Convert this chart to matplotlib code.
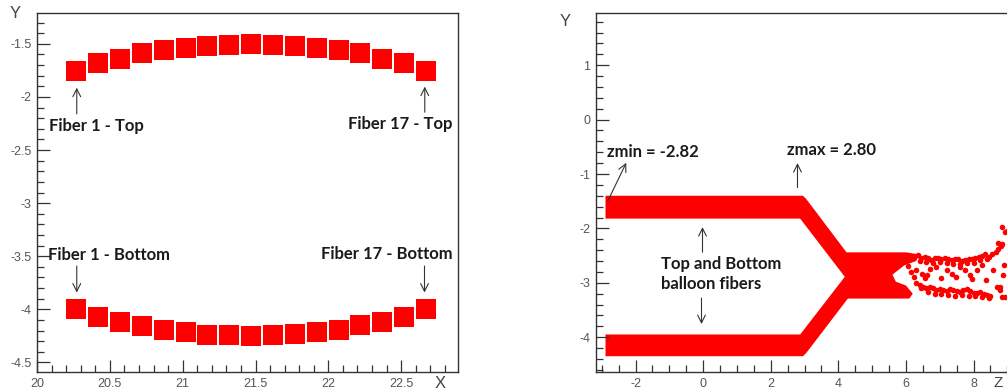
import numpy as np
import matplotlib.pyplot as plt
from matplotlib.ticker import MultipleLocator, FormatStrFormatter

# fiber centres (left pad)
fiber_x = [20.27, 20.42, 20.57, 20.72, 20.87, 21.02, 21.17, 21.32, 21.47,
           21.62, 21.77, 21.92, 22.07, 22.22, 22.37, 22.52, 22.67]
top_y = [-1.76, -1.68, -1.645, -1.59, -1.557, -1.54, -1.516, -1.51, -1.503,
         -1.51, -1.516, -1.54, -1.56, -1.59, -1.645, -1.68, -1.76]
bot_y = [-4.00, -4.07, -4.12, -4.16, -4.19, -4.21, -4.24, -4.245, -4.255,
         -4.245, -4.23, -4.21, -4.19, -4.15, -4.12, -4.07, -4.00]

# outline of the dense hit band (right pad)
band_z = [-2.89, 2.95, 3.05, 4.24, 6.0, 6.4, 6.3, 5.95, 5.6, 5.7, 6.0, 6.2, 6.1,
          4.28, 3.05, 2.95, -2.89, -2.89, 2.87, 4.19, 2.87, -2.89]
band_y = [-1.40, -1.40, -1.46, -2.44, -2.44, -2.48, -2.6, -2.68, -2.85, -2.98,
          -3.05, -3.2, -3.29, -3.29, -4.29, -4.35, -4.35, -3.95, -3.95, -2.89,
          -1.82, -1.82]

# scattered hits downstream
scat_z = [6.25, 6.35, 6.45, 6.55, 6.65, 6.75, 6.85, 6.95, 7.05, 7.15, 7.25, 7.35,
          7.45, 7.55, 7.65, 7.75, 7.85, 7.95, 8.05, 8.15, 8.25, 8.35, 8.45, 8.55,
          8.65, 8.72, 8.80, 8.85,
          6.40, 6.60, 6.80, 7.00, 7.20, 7.40, 7.60, 7.80, 8.00, 8.20, 8.40,
          6.31, 6.46, 6.71, 6.90, 7.20, 7.35, 7.59, 7.74, 7.89, 8.09, 8.38, 8.58,
          6.05, 6.15, 6.25, 6.55, 6.62, 7.05, 7.48, 7.95, 8.25,
          6.30, 6.40, 6.50, 6.60, 6.70, 6.80, 6.90, 7.00, 7.10, 7.20, 7.30, 7.40,
          7.50, 7.60, 7.70, 7.80, 7.90, 8.00, 8.10, 8.20, 8.30, 8.40, 8.50,
          6.45, 6.65, 6.85, 7.05, 7.25, 7.45, 7.65, 7.85, 8.05, 8.25, 8.45,
          8.68, 8.78, 8.83,
          8.84, 8.93, 8.72, 8.90, 8.78, 8.93, 8.98, 8.88]
scat_y = [-2.52, -2.49, -2.55, -2.53, -2.55, -2.58, -2.55, -2.54, -2.57, -2.55, -2.56, -2.58,
          -2.57, -2.57, -2.60, -2.58, -2.56, -2.57, -2.55, -2.53, -2.50, -2.47, -2.52, -2.47,
          -2.43, -2.37, -2.32, -2.28,
          -2.60, -2.61, -2.64, -2.62, -2.64, -2.65, -2.66, -2.63, -2.63, -2.58, -2.56,
          -2.77, -2.83, -2.74, -2.71, -2.77, -2.83, -2.71, -2.77, -2.86, -2.77, -2.95, -2.77,
          -2.70, -2.80, -2.90, -2.92, -2.86, -2.92, -2.90, -2.93, -2.68,
          -3.00, -3.04, -3.08, -3.10, -3.07, -3.10, -3.13, -3.11, -3.14, -3.16, -3.12, -3.14,
          -3.15, -3.17, -3.13, -3.12, -3.16, -3.18, -3.19, -3.17, -3.21, -3.23, -3.25,
          -3.10, -3.17, -3.20, -3.21, -3.23, -3.24, -3.22, -3.24, -3.25, -3.26, -3.28,
          -3.08, -3.14, -3.26,
          -1.98, -2.07, -2.27, -2.68, -3.08, -3.27, -2.04, -2.85]

RED = "#ff0000"
TICKC = "#555555"
ANN = dict(fontsize=12, fontweight="bold", family="Lato", color="#1a1a1a")
ARR = dict(arrowstyle="->", lw=0.8, color="#333333", mutation_scale=14)

plt.rcParams['font.family'] = ['Liberation Sans', 'DejaVu Sans']

fig = plt.figure(figsize=(10.07, 3.92), dpi=100)
W, H = 1007, 392
ax1 = fig.add_axes([37 / W, 20 / H, 421 / W, 359 / H])
ax2 = fig.add_axes([595.7 / W, 20 / H, 421 / W, 359 / H])

for ax in (ax1, ax2):
    for s in ax.spines.values():
        s.set_color("#333333")
        s.set_linewidth(1.0)
    ax.tick_params(which="both", direction="in", top=False, right=False,
                   colors="#333333", labelcolor=TICKC, labelsize=9, pad=4)
    ax.tick_params(which="major", length=9, width=0.9)
    ax.tick_params(which="minor", length=5, width=0.9)

# left pad
ax1.plot(fiber_x, top_y, "s", color=RED, markersize=14, markeredgewidth=0)
ax1.plot(fiber_x, bot_y, "s", color=RED, markersize=14, markeredgewidth=0)
ax1.set_xlim(20, 22.89)
ax1.set_ylim(-4.59, -1.21)
ax1.xaxis.set_major_locator(MultipleLocator(0.5))
ax1.xaxis.set_minor_locator(MultipleLocator(0.1))
ax1.yaxis.set_major_locator(MultipleLocator(0.5))
ax1.yaxis.set_minor_locator(MultipleLocator(0.1))
ax1.xaxis.set_major_formatter(FormatStrFormatter('%g'))
ax1.yaxis.set_major_formatter(FormatStrFormatter('%g'))

ax1.text(20.082, -2.27, "Fiber 1 - Top", ha="left", va="center", **ANN)
ax1.text(22.852, -2.258, "Fiber 17 - Top", ha="right", va="center", **ANN)
ax1.text(20.076, -3.484, "Fiber 1 - Bottom", ha="left", va="center", **ANN)
ax1.text(22.85, -3.475, "Fiber 17 - Bottom", ha="right", va="center", **ANN)
ax1.annotate("", xy=(20.273, -1.887), xytext=(20.273, -2.186), arrowprops=ARR)
ax1.annotate("", xy=(22.662, -1.877), xytext=(22.662, -2.17), arrowprops=ARR)
ax1.annotate("", xy=(20.273, -3.868), xytext=(20.273, -3.566), arrowprops=ARR)
ax1.annotate("", xy=(22.66, -3.868), xytext=(22.66, -3.566), arrowprops=ARR)

fig.text(15 / W, 1 - 14 / H, "Y", ha="center", va="center", fontsize=12, color="#444444")
fig.text(440 / W, 1 - 384 / H, "X", ha="center", va="center", fontsize=12, color="#444444")

# right pad
ax2.fill(band_z, band_y, color=RED, lw=0)
ax2.scatter(scat_z, scat_y, s=16, color=RED, lw=0)
ax2.set_xlim(-3.18, -3.18 + 421 / 33.8)
ax2.set_ylim(-4.64, 1.96)
ax2.xaxis.set_major_locator(MultipleLocator(2))
ax2.xaxis.set_minor_locator(MultipleLocator(0.5))
ax2.yaxis.set_major_locator(MultipleLocator(1))
ax2.yaxis.set_minor_locator(MultipleLocator(0.2))
ax2.xaxis.set_major_formatter(FormatStrFormatter('%g'))
ax2.yaxis.set_major_formatter(FormatStrFormatter('%g'))

ax2.text(-2.84, -0.596, "zmin = -2.82", ha="left", va="center", **ANN)
ax2.text(2.47, -0.564, "zmax = 2.80", ha="left", va="center", **ANN)
ax2.text(-1.26, -2.647, "Top and Bottom", ha="left", va="center", **ANN)
ax2.text(-1.26, -3.03, "balloon fibers", ha="left", va="center", **ANN)
ax2.annotate("", xy=(-2.24, -0.748), xytext=(-2.86, -1.544), arrowprops=ARR)
ax2.annotate("", xy=(2.79, -0.748), xytext=(2.79, -1.30), arrowprops=ARR)
ax2.annotate("", xy=(-0.02, -1.925), xytext=(-0.02, -2.49), arrowprops=ARR)
ax2.annotate("", xy=(-0.05, -3.81), xytext=(-0.05, -3.23), arrowprops=ARR)

fig.text(565 / W, 1 - 22 / H, "Y", ha="center", va="center", fontsize=12, color="#444444")
fig.text(998 / W, 1 - 383 / H, "Z", ha="center", va="center", fontsize=11, color="#444444")

fig.savefig("out.png", dpi=100)
